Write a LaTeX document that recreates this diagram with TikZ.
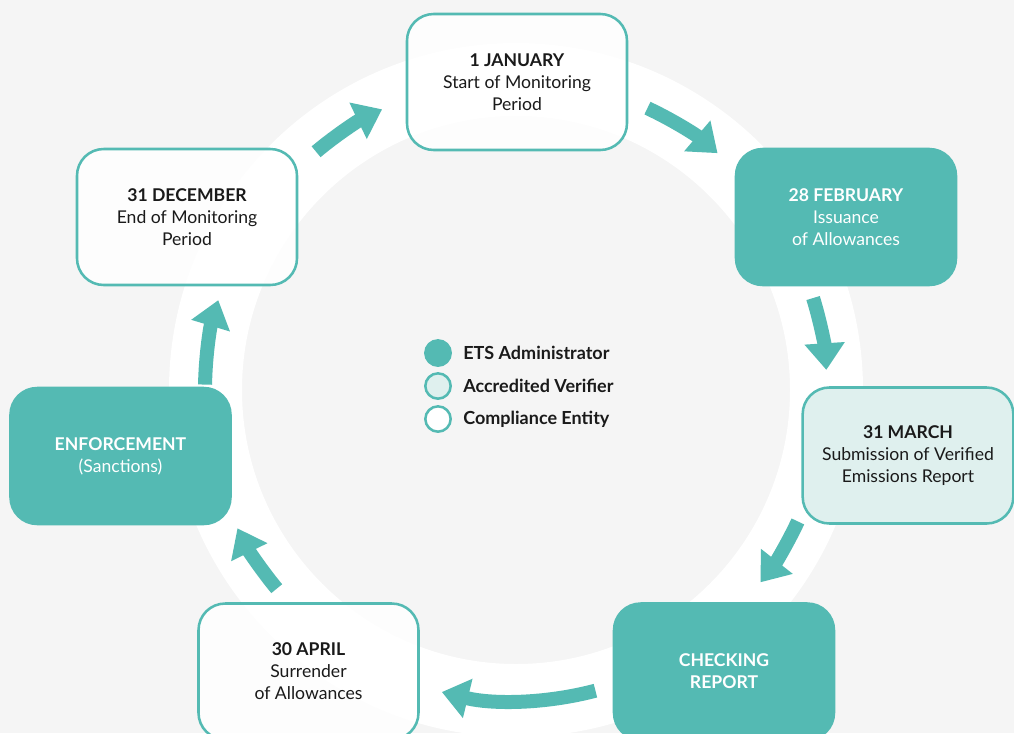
\documentclass[tikz,border=0pt]{standalone}
\usepackage{fontspec}
\setmainfont{Lato}
\usetikzlibrary{arrows.meta}
\definecolor{tealc}{HTML}{54BAB3}
\definecolor{lteal}{HTML}{DFF0EE}
\definecolor{bgc}{HTML}{F5F5F5}
\definecolor{ink}{HTML}{1A1A1A}
\tikzset{
  box/.style={rounded corners=20pt, line width=1.9pt, draw=tealc, minimum width=165pt, minimum height=102pt, align=center, inner sep=0pt, font=\fontsize{13.2}{16.5}\selectfont},
  wbox/.style={box, fill=white, fill opacity=0.85, text opacity=1, text=ink},
  tbox/.style={box, fill=tealc, text=white},
  vbox/.style={box, fill=lteal, text=ink},
  flow/.style={line width=10.5pt, draw=tealc, -{Triangle[length=20pt, width=29pt]}},
  legdot/.style={circle, draw=tealc, line width=1.9pt, minimum size=19pt, inner sep=0pt},
  legtxt/.style={anchor=west, font=\bfseries\fontsize{13.5}{15}\selectfont, text=ink, inner sep=0pt}
}
\begin{document}
\begin{tikzpicture}[x=0.75pt, y=-0.75pt]
\clip (0,0) rectangle (1014,733);
\fill[bgc] (0,0) rectangle (1014,733);
% ring
\fill[white, even odd rule] (516,390) circle[radius=347] (516,390) circle[radius=274];
% arrows
\coordinate (c) at (516,390);
\draw[flow] ([shift={(c)}]-130:311) arc[start angle=-130, end angle=-115.5, radius=311];
\draw[flow] ([shift={(c)}]-65:311) arc[start angle=-65, end angle=-49.6, radius=311];
\draw[flow] ([shift={(c)}]-17.2:311) arc[start angle=-17.2, end angle=-3.7, radius=311];
\draw[flow] ([shift={(c)}]25:311) arc[start angle=25, end angle=38.2, radius=311];
\draw[flow] ([shift={(c)}]75.2:311) arc[start angle=75.2, end angle=103.8, radius=311];
\draw[flow] ([shift={(c)}]140.3:311) arc[start angle=140.3, end angle=153.6, radius=311];
\draw[flow] ([shift={(c)}]181:311) arc[start angle=181, end angle=196.8, radius=311];
% boxes
\node[wbox] (jan) at (517,82) {\textbf{1 JANUARY}\\Start of Monitoring\\Period};
\node[tbox] (feb) at (846,217) {\textbf{28 FEBRUARY}\\Issuance\\of Allowances};
\node[vbox, minimum width=158pt] (mar) at (908,455.5) {\textbf{31 MARCH}\\Submission of Verified\\Emissions Report};
\node[tbox] (chk) at (724,671.5) {\textbf{CHECKING}\\\textbf{REPORT}};
\node[wbox] (apr) at (308.5,671.5) {\textbf{30 APRIL}\\Surrender\\of Allowances};
\node[tbox] (enf) at (120.5,456) {\textbf{ENFORCEMENT}\\(Sanctions)};
\node[wbox] (dec) at (187,217) {\textbf{31 DECEMBER}\\End of Monitoring\\Period};
% legend
\node[legdot, fill=tealc] (l1) at (438,353) {};
\node[legdot, fill=lteal] (l2) at (438,386) {};
\node[legdot, fill=white] (l3) at (438,419) {};
\node[legtxt] (t1) at (463,353) {ETS Administrator};
\node[legtxt] (t2) at (463,386) {Accredited Verifier};
\node[legtxt] (t3) at (463,419) {Compliance Entity};
\end{tikzpicture}
\end{document}
